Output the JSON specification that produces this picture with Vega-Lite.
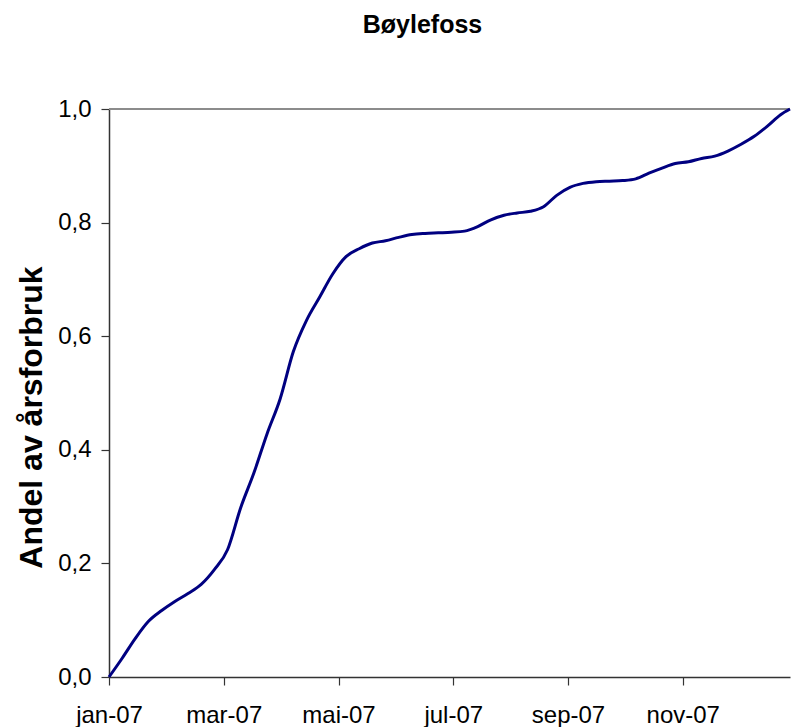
{
  "$schema": "https://vega.github.io/schema/vega-lite/v6.json",
  "width": 681,
  "height": 568,
  "autosize": {"type": "none"},
  "padding": {"left": 109, "top": 109, "right": 1, "bottom": 50},
  "background": "white",
  "title": {
    "text": "Bøylefoss",
    "anchor": "middle",
    "frame": "group",
    "dx": -27,
    "offset": 39,
    "baseline": "alphabetic",
    "font": "Liberation Sans",
    "fontSize": 25,
    "fontWeight": "bold",
    "color": "#000000"
  },
  "data": {
    "values": [
      {"date": "2007-01-01", "andel": 0.000},
      {"date": "2007-01-08", "andel": 0.033},
      {"date": "2007-01-15", "andel": 0.068},
      {"date": "2007-01-22", "andel": 0.098},
      {"date": "2007-01-29", "andel": 0.117},
      {"date": "2007-02-05", "andel": 0.133},
      {"date": "2007-02-12", "andel": 0.147},
      {"date": "2007-02-19", "andel": 0.163},
      {"date": "2007-02-26", "andel": 0.189},
      {"date": "2007-03-05", "andel": 0.224},
      {"date": "2007-03-12", "andel": 0.298},
      {"date": "2007-03-19", "andel": 0.359},
      {"date": "2007-03-26", "andel": 0.428},
      {"date": "2007-04-02", "andel": 0.490},
      {"date": "2007-04-09", "andel": 0.573},
      {"date": "2007-04-16", "andel": 0.628},
      {"date": "2007-04-23", "andel": 0.669},
      {"date": "2007-04-30", "andel": 0.710},
      {"date": "2007-05-07", "andel": 0.740},
      {"date": "2007-05-14", "andel": 0.754},
      {"date": "2007-05-21", "andel": 0.764},
      {"date": "2007-05-28", "andel": 0.768},
      {"date": "2007-06-04", "andel": 0.774},
      {"date": "2007-06-11", "andel": 0.779},
      {"date": "2007-06-18", "andel": 0.781},
      {"date": "2007-06-25", "andel": 0.782},
      {"date": "2007-07-02", "andel": 0.783},
      {"date": "2007-07-09", "andel": 0.785},
      {"date": "2007-07-16", "andel": 0.793},
      {"date": "2007-07-23", "andel": 0.805},
      {"date": "2007-07-30", "andel": 0.813},
      {"date": "2007-08-06", "andel": 0.817},
      {"date": "2007-08-13", "andel": 0.820},
      {"date": "2007-08-20", "andel": 0.828},
      {"date": "2007-08-27", "andel": 0.848},
      {"date": "2007-09-03", "andel": 0.862},
      {"date": "2007-09-10", "andel": 0.869},
      {"date": "2007-09-17", "andel": 0.872},
      {"date": "2007-09-24", "andel": 0.873},
      {"date": "2007-10-01", "andel": 0.874},
      {"date": "2007-10-08", "andel": 0.877},
      {"date": "2007-10-15", "andel": 0.887},
      {"date": "2007-10-22", "andel": 0.896},
      {"date": "2007-10-29", "andel": 0.904},
      {"date": "2007-11-05", "andel": 0.907},
      {"date": "2007-11-12", "andel": 0.913},
      {"date": "2007-11-19", "andel": 0.917},
      {"date": "2007-11-26", "andel": 0.926},
      {"date": "2007-12-03", "andel": 0.938},
      {"date": "2007-12-10", "andel": 0.952},
      {"date": "2007-12-17", "andel": 0.970},
      {"date": "2007-12-24", "andel": 0.990},
      {"date": "2007-12-29", "andel": 1.000}
    ]
  },
  "layer": [
    {
      "mark": {"type": "rule", "color": "#8c8c8c", "strokeWidth": 2},
      "encoding": {"y": {"datum": 1, "type": "quantitative", "scale": {"domain": [0, 1], "nice": false}}}
    },
    {
      "mark": {"type": "line", "color": "#000080", "strokeWidth": 3, "interpolate": "monotone", "clip": false},
      "encoding": {
        "x": {
          "field": "date",
          "type": "temporal",
          "scale": {
            "type": "utc",
            "domain": [
              {"year": 2007, "month": 1, "date": 1, "utc": true},
              {"year": 2007, "month": 12, "date": 29, "utc": true}
            ],
            "nice": false
          },
          "axis": {
            "title": null,
            "values": [
              {"year": 2007, "month": 1, "date": 1, "utc": true},
              {"year": 2007, "month": 3, "date": 3, "utc": true},
              {"year": 2007, "month": 5, "date": 3, "utc": true},
              {"year": 2007, "month": 7, "date": 3, "utc": true},
              {"year": 2007, "month": 9, "date": 2, "utc": true},
              {"year": 2007, "month": 11, "date": 2, "utc": true}
            ],
            "labelExpr": "['jan','feb','mar','apr','mai','jun','jul','aug','sep','okt','nov','des'][utcmonth(datum.value)] + '-' + utcFormat(datum.value, '%y')",
            "grid": false,
            "domainColor": "#333333",
            "domainWidth": 1.5,
            "tickColor": "#333333",
            "tickWidth": 1.2,
            "tickSize": 8,
            "labelPadding": 18,
            "labelFont": "Liberation Sans",
            "labelFontSize": 24,
            "labelColor": "#000000",
            "labelFlush": false,
            "labelOverlap": false
          }
        },
        "y": {
          "field": "andel",
          "type": "quantitative",
          "scale": {"domain": [0, 1], "nice": false},
          "axis": {
            "title": "Andel av årsforbruk",
            "titleFont": "Liberation Sans",
            "titleFontSize": 32,
            "titleFontWeight": "bold",
            "titleColor": "#000000",
            "titleAngle": -90,
            "titleX": -68,
            "titleY": 308,
            "titleAlign": "center",
            "titleBaseline": "alphabetic",
            "values": [0, 0.2, 0.4, 0.6, 0.8, 1.0],
            "labelExpr": "replace(format(datum.value, '.1f'), '.', ',')",
            "grid": false,
            "domainColor": "#333333",
            "domainWidth": 1.5,
            "tickColor": "#333333",
            "tickWidth": 1.2,
            "tickSize": 8,
            "labelPadding": 10,
            "labelFont": "Liberation Sans",
            "labelFontSize": 24,
            "labelColor": "#000000",
            "labelFlush": false,
            "labelOverlap": false
          }
        }
      }
    }
  ],
  "config": {"view": {"stroke": null}}
}
